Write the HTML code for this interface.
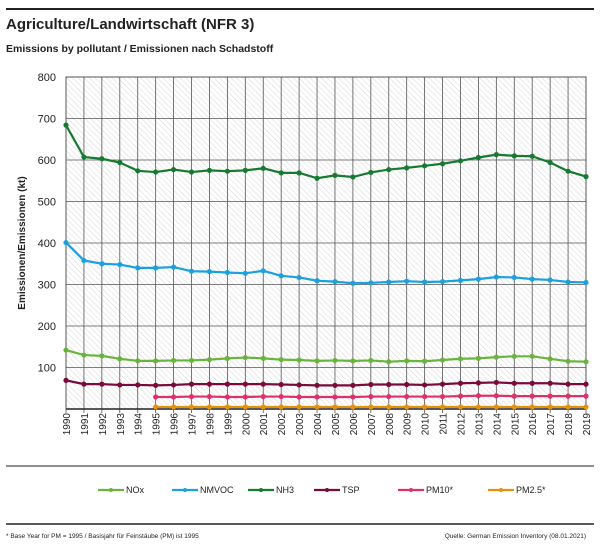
<!DOCTYPE html>
<html><head><meta charset="utf-8"><style>
body{margin:0;background:#fff;width:600px;height:551px;overflow:hidden;font-family:"Liberation Sans",sans-serif}
</style></head><body>
<svg width="600" height="551" xmlns="http://www.w3.org/2000/svg" font-family="Liberation Sans, sans-serif">
<defs><pattern id="h" width="4" height="4" patternUnits="userSpaceOnUse" patternTransform="rotate(-45)"><rect width="4" height="4" fill="#fff"/><line x1="0" y1="0" x2="0" y2="4" stroke="#d6d6d6" stroke-width="1"/></pattern></defs>
<line x1="6" y1="9" x2="594" y2="9" stroke="#222" stroke-width="2"/>
<text x="6" y="29" font-size="15" font-weight="bold" fill="#222">Agriculture/Landwirtschaft (NFR 3)</text>
<text x="6" y="52" font-size="10.5" font-weight="bold" fill="#222">Emissions by pollutant / Emissionen nach Schadstoff</text>
<rect x="66" y="77" width="520" height="332" fill="url(#h)" stroke="#555"/>
<g id="grid" stroke="#555" stroke-width="0.8"></g>
<g id="lbl" font-size="11" fill="#222"></g>
<text transform="translate(25,243) rotate(-90)" font-size="10" font-weight="bold" text-anchor="middle" fill="#222">Emissionen/Emissionen (kt)</text>
<g id="series"></g>
<line x1="6" y1="466" x2="594" y2="466" stroke="#222" stroke-width="1"/>
<g id="leg" font-size="9" fill="#222"></g>
<line x1="6" y1="524" x2="594" y2="524" stroke="#222" stroke-width="1.5"/>
<text x="6" y="538" font-size="6.5" fill="#222">* Base Year for PM = 1995 / Basisjahr für Feinstäube (PM) ist 1995</text>
<text x="586" y="538" font-size="6.5" fill="#222" text-anchor="end">Quelle: German Emission Inventory (08.01.2021)</text>
</svg>
<script>
const ns="http://www.w3.org/2000/svg";
function el(p,t,a,tx){const e=document.createElementNS(ns,t);for(const k in a)e.setAttribute(k,a[k]);if(tx)e.textContent=tx;p.appendChild(e);return e;}
const X=i=>66+i*520/29, Y=v=>409-v*0.415;
const g=document.getElementById('grid'),l=document.getElementById('lbl');
for(let v=0;v<=800;v+=100){el(g,'line',{x1:66,x2:586,y1:Y(v),y2:Y(v)});el(l,'text',{x:56,y:Y(v)+4,'text-anchor':'end'},v);}
for(let i=0;i<30;i++){el(g,'line',{x1:X(i),x2:X(i),y1:77,y2:413});const x=X(i)+4;el(l,'text',{x:x,y:413,transform:`rotate(-90 ${x} 413)`,'text-anchor':'end','font-size':'10'},1990+i);}
el(g,'line',{x1:66,x2:586,y1:409,y2:409,stroke:'#222','stroke-width':1.5});
const S=[
["NOx","#6ab43e",0,[142,130,128,121,116,116,117,117,119,122,124,122,119,118,116,117,116,117,114,116,115,118,121,122,125,127,127,121,115,114]],
["NMVOC","#1ba1dd",0,[401,358,350,348,340,340,342,332,331,329,327,333,321,317,309,307,303,304,306,308,306,307,310,313,318,317,313,311,306,305]],
["NH3","#167a30",0,[684,607,603,594,574,571,577,571,575,573,575,580,569,569,556,563,559,570,577,581,586,591,598,606,613,610,609,594,573,560]],
["TSP","#7a0a3a",0,[69,60,60,58,58,57,58,60,60,60,60,60,59,58,57,57,57,59,59,59,58,60,62,63,64,62,62,62,60,60]],
["PM10*","#e0306a",5,[29,29,30,30,29,29,30,30,29,29,29,29,30,30,30,30,30,31,32,32,31,31,31,31,31]],
["PM2.5*","#e8900a",5,[5,5,5,5,5,5,5,5,5,5,5,5,5,5,5,5,5,5,5,5,5,5,5,5,5]]];
const sg=document.getElementById('series'),lg=document.getElementById('leg');
const lx=[98,172,248,314,398,488];
S.forEach((s,k)=>{const pts=s[3].map((v,j)=>[X(j+s[2]),Y(v)]);
el(sg,'polyline',{points:pts.map(p=>p.join(',')).join(' '),fill:'none',stroke:s[1],'stroke-width':2.2});
pts.forEach(p=>el(sg,'circle',{cx:p[0],cy:p[1],r:2.6,fill:s[1]}));
el(lg,'line',{x1:lx[k],x2:lx[k]+26,y1:490,y2:490,stroke:s[1],'stroke-width':2.2});
el(lg,'circle',{cx:lx[k]+13,cy:490,r:2,fill:s[1]});
el(lg,'text',{x:lx[k]+28,y:493},s[0]);});
</script>
</body></html>
